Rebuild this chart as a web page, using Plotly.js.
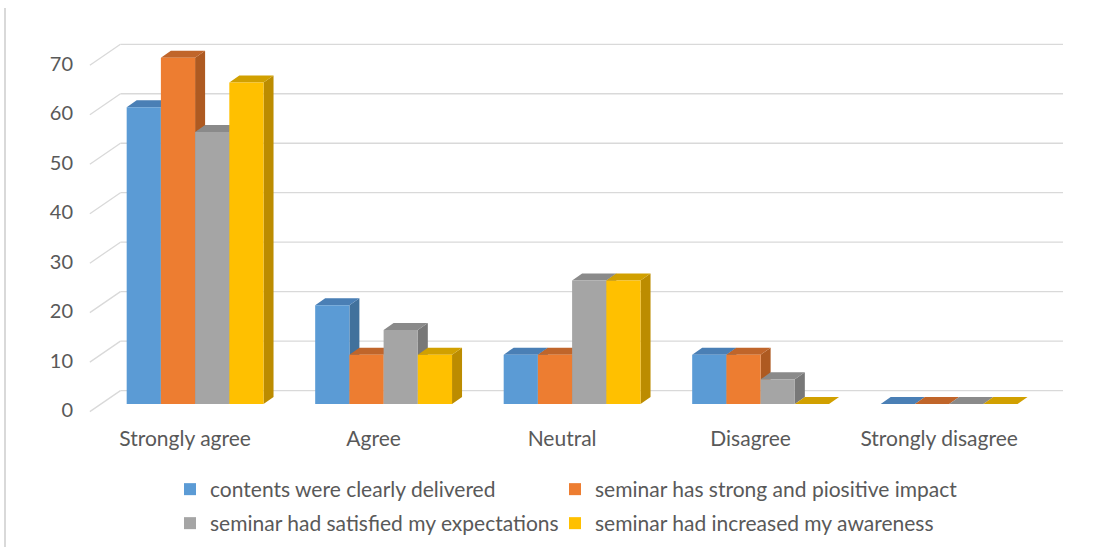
<!DOCTYPE html>
<html>
<head>
<meta charset="utf-8">
<script src="https://cdn.plot.ly/plotly-3.0.1.min.js"></script>
<style>
  html, body { margin: 0; padding: 0; background: #ffffff; }
  #chart { width: 1109px; height: 550px; }
</style>
</head>
<body>
<div id="chart"></div>
<script>
// ---- data ----
const categories = ['Strongly agree', 'Agree', 'Neutral', 'Disagree', 'Strongly disagree'];
const seriesNames = [
  'contents were clearly delivered',
  'seminar has strong and piositive impact',
  'seminar had satisfied my expectations',
  'seminar had increased my awareness'
];
const contentsDelivered = [60, 20, 10, 10, 0];
const strongImpact      = [70, 10, 10, 10, 0];
const satisfiedExpect   = [55, 15, 25, 5, 0];
const increasedAware    = [65, 10, 25, 0, 0];
const yTickValues = [0, 10, 20, 30, 40, 50, 60, 70];

// ---- styles ----
const frontColors = ['#5b9bd5', '#ed7d31', '#a5a5a5', '#ffc000'];
const sideColors  = ['#41719c', '#ae5a21', '#787878', '#bc8c00'];
const topColors   = ['#4a7fb5', '#c0652a', '#8a8a8a', '#d1a000'];
const seriesValues = [contentsDelivered, strongImpact, satisfiedExpect, increasedAware];

const W = 1109, H = 550;
const M = {l: 82, r: 43, t: 38, b: 136};
const xRange = [-0.6, 4.62];
const yRange = [-2, 74];
const plotW = W - M.l - M.r, plotH = H - M.t - M.b;
const pxX = plotW / (xRange[1] - xRange[0]);
const pxY = plotH / (yRange[1] - yRange[0]);

// 3D projection offsets (pixels -> data units)
const depth = {dx: 10 / pxX, dy: 7 / pxY};          // bar depth
const wallBack = {dx: 19.6 / pxX, dy: 13.5 / pxY};  // back wall
const wallFront = {dx: -11 / pxX, dy: -7.5 / pxY};  // front edge of floor

const groupWidth = 0.726;
const barW = groupWidth / 4;

const xs = categories.map((c, i) => i);

const legendIds = ['legend', 'legend2', 'legend3', 'legend4'];
const legendPos = [[170, 469], [555, 469], [170, 503], [555, 503]];

const traces = [];
// side and top faces (main subplot, beneath the front faces)
seriesValues.forEach((vals, s) => {
  const off = -groupWidth / 2 + s * barW;
  const sx = [], sy = [], tx = [], ty = [];
  vals.forEach((v, i) => {
    const xl = xs[i] + off, xr = xl + barW;
    sx.push(xr, xr + depth.dx, xr + depth.dx, xr, xr, null);
    sy.push(0, depth.dy, v + depth.dy, v, 0, null);
    tx.push(xl, xr, xr + depth.dx, xl + depth.dx, xl, null);
    ty.push(v, v, v + depth.dy, v + depth.dy, v, null);
  });
  traces.push({
    type: 'scatter', mode: 'lines', x: sx, y: sy, fill: 'toself',
    fillcolor: sideColors[s], line: {width: 0, color: sideColors[s]},
    hoverinfo: 'skip', showlegend: false, xaxis: 'x', yaxis: 'y'
  });
  traces.push({
    type: 'scatter', mode: 'lines', x: tx, y: ty, fill: 'toself',
    fillcolor: topColors[s], line: {width: 0, color: topColors[s]},
    hoverinfo: 'skip', showlegend: false, xaxis: 'x', yaxis: 'y'
  });
});
// front faces (bars) on the overlay subplot
seriesValues.forEach((vals, s) => {
  traces.push({
    type: 'bar', name: seriesNames[s], x: xs, y: vals,
    width: barW, offset: -groupWidth / 2 + s * barW,
    marker: {color: frontColors[s], line: {width: 0}},
    xaxis: 'x2', yaxis: 'y2',
    legend: legendIds[s]
  });
});

// back wall gridlines with floor diagonals
const shapes = [];
const gridColor = '#d9d9d9';
yTickValues.forEach(t => {
  shapes.push({type: 'line', xref: 'x', yref: 'y', layer: 'below',
    x0: -0.5 + wallFront.dx, y0: t + wallFront.dy,
    x1: -0.5 + wallBack.dx, y1: t + wallBack.dy,
    line: {color: gridColor, width: 1.3}});
  shapes.push({type: 'line', xref: 'x', yref: 'y', layer: 'below',
    x0: -0.5 + wallBack.dx, y0: t + wallBack.dy,
    x1: 4.5 + wallBack.dx, y1: t + wallBack.dy,
    line: {color: gridColor, width: 1.3}});
});
// chart-area border on the left
const borderX = (5 - M.l) / plotW;
shapes.push({type: 'line', xref: 'paper', yref: 'paper', layer: 'below',
  x0: borderX, x1: borderX,
  y0: (H - M.b - 8) / plotH, y1: -(M.b - 3) / plotH,
  line: {color: '#d9d9d9', width: 2}});

const font = {family: 'Lato, "Open Sans", sans-serif', color: '#595959'};

const layout = {
  width: W, height: H,
  margin: M,
  paper_bgcolor: '#ffffff', plot_bgcolor: 'rgba(0,0,0,0)',
  showlegend: true,
  xaxis: {
    range: xRange, tickvals: xs, ticktext: categories,
    showgrid: false, zeroline: false, showline: false, ticks: '',
    tickfont: Object.assign({size: 21}, font),
    ticklabelstandoff: 10, ticklabelshift: -10, fixedrange: true
  },
  yaxis: {
    range: yRange, tickvals: yTickValues,
    showgrid: false, zeroline: false, showline: false, ticks: '',
    tickfont: Object.assign({size: 20}, font),
    ticklabelstandoff: 8, ticklabelshift: 6, fixedrange: true
  },
  xaxis2: {range: xRange, overlaying: 'x', visible: false, fixedrange: true},
  yaxis2: {range: yRange, overlaying: 'y', visible: false, fixedrange: true},
  barmode: 'overlay',
  shapes: shapes
};

legendIds.forEach((id, i) => {
  layout[id] = {
    orientation: 'h', xref: 'container', yref: 'container',
    xanchor: 'left', yanchor: 'top',
    x: legendPos[i][0] / W, y: 1 - legendPos[i][1] / H,
    itemwidth: 30,
    font: Object.assign({size: 21}, font), bgcolor: 'rgba(0,0,0,0)'
  };
});

Plotly.newPlot('chart', traces, layout, {displayModeBar: false, staticPlot: true});
</script>
</body>
</html>
